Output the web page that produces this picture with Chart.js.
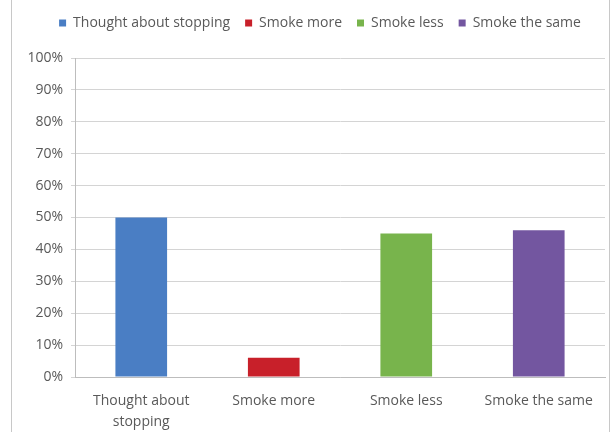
<!DOCTYPE html>
<html>
<head>
<meta charset="utf-8">
<script src="https://cdn.jsdelivr.net/npm/chart.js@4/dist/chart.umd.min.js"></script>
<style>
  html, body { margin: 0; padding: 0; background: #ffffff; }
  #wrap { position: relative; width: 615px; height: 432px; }
  #frame { position: absolute; left: 11px; top: 0; width: 597px; height: 432px;
           border-left: 1px solid #c8c8c8; border-right: 1px solid #c8c8c8; }
  #chart { position: absolute; left: 0; top: 0; }
</style>
</head>
<body>
<div id="wrap">
  <div id="frame"></div>
  <canvas id="chart" width="615" height="432"></canvas>
</div>
<script>
// Categorias y porcentajes
const categorias = ["Thought about stopping", "Smoke more", "Smoke less", "Smoke the same"];
const porcentajes = [50, 6, 45, 46];
const colores = ["#4a7ec4", "#c8202a", "#78b44c", "#7356a0"];
const ticksY = [0, 10, 20, 30, 40, 50, 60, 70, 80, 90, 100];

const gris = "#595959";

// Mover la leyenda un poco (centrada sobre el area del grafico y mas arriba)
const moverLeyenda = {
    id: "moverLeyenda",
    afterLayout: function(chart) {
        const lg = chart.legend;
        const dx = 12, dy = -18;
        lg.left += dx; lg.right += dx;
        lg.top += dy; lg.bottom += dy;
    }
};

new Chart(document.getElementById("chart"), {
    type: "bar",
    data: {
        labels: categorias,
        datasets: [{
            data: porcentajes,
            backgroundColor: colores,
            borderWidth: 0,
            categoryPercentage: 1,
            barPercentage: 0.39
        }]
    },
    options: {
        responsive: false,
        animation: false,
        layout: { padding: { left: 11, right: 10, top: 19, bottom: 0 } },
        plugins: {
            tooltip: { enabled: false },
            legend: {
                position: "top",
                labels: {
                    color: gris,
                    font: { family: "Open Sans", size: 14 },
                    boxWidth: 7,
                    boxHeight: 7,
                    padding: 15,
                    // una entrada por categoria
                    generateLabels: function(chart) {
                        return categorias.map((c, i) => ({
                            text: c,
                            fillStyle: colores[i],
                            strokeStyle: colores[i],
                            lineWidth: 0,
                            fontColor: gris,
                            index: i
                        }));
                    }
                }
            }
        },
        scales: {
            x: {
                grid: { display: false },
                border: { color: "#bdbdbd" },
                ticks: {
                    color: gris,
                    font: { family: "Open Sans", size: 14, lineHeight: 1.5 },
                    padding: 6,
                    maxRotation: 0,
                    autoSkip: false,
                    callback: function(value) {
                        const t = categorias[value];
                        return t.length > 16 ? ["Thought about", "stopping"] : t;
                    }
                },
                afterFit: function(scale) { scale.height = 55; }
            },
            y: {
                min: 0,
                max: 100,
                grid: { color: "#d4d4d4", tickLength: 4 },
                border: { color: "#bdbdbd" },
                afterBuildTicks: function(scale) {
                    scale.ticks = ticksY.map(v => ({ value: v }));
                },
                ticks: {
                    color: gris,
                    font: { family: "Open Sans", size: 14 },
                    padding: 8,
                    callback: v => v + "%"
                },
                afterFit: function(scale) { scale.width = 64; }
            }
        }
    },
    plugins: [moverLeyenda]
});
</script>
</body>
</html>
